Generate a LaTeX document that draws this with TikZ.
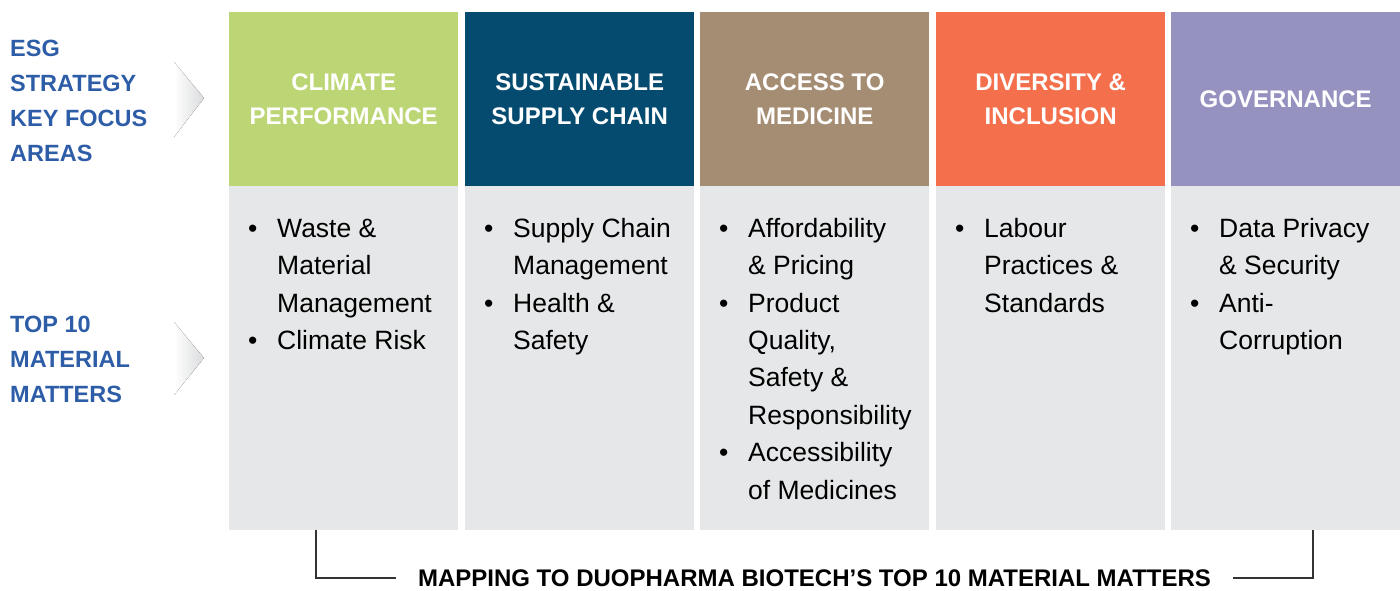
\documentclass[tikz,border=0pt]{standalone}
\usepackage{fontspec}
\setmainfont{Liberation Sans}
\definecolor{cgreen}{HTML}{BDD675}
\definecolor{cnavy}{HTML}{054B70}
\definecolor{ctan}{HTML}{A58D73}
\definecolor{corange}{HTML}{F4704C}
\definecolor{cpurple}{HTML}{9592C0}
\definecolor{cgray}{HTML}{E6E7E8}
\definecolor{cblue}{HTML}{2E5DA8}
\definecolor{cchev}{HTML}{DADBDD}
\definecolor{cline}{HTML}{333333}
\newcommand\bl{\makebox[29pt][l]{•}}
\newcommand\ind{\hspace*{29pt}}
\begin{document}
\begin{tikzpicture}[x=1pt,y=-1pt,
  head/.style={minimum width=229pt, minimum height=174pt, inner sep=0pt, text=white,
    font=\fontsize{24}{34}\selectfont\bfseries, align=center, anchor=north west},
  body/.style={fill=cgray, minimum width=229pt, minimum height=344pt, inner sep=0pt, anchor=north west},
  btext/.style={anchor=base west, inner sep=0pt, font=\fontsize{26.5}{37.4}\selectfont, text=black},
  lab/.style={anchor=base west, inner sep=0pt, font=\fontsize{23.5}{35}\selectfont\bfseries, text=cblue},
  chev/.style={left color=white, right color=cchev},
  bracket/.style={draw=cline, line width=1.3pt}
]
\useasboundingbox (0,0) rectangle (1400,590);
% headers
\node[head, fill=cgreen]  (h1) at (229,12)  {CLIMATE\\PERFORMANCE};
\node[head, fill=cnavy]   (h2) at (465,12)  {SUSTAINABLE\\SUPPLY CHAIN};
\node[head, fill=ctan]    (h3) at (700,12)  {ACCESS TO\\MEDICINE};
\node[head, fill=corange] (h4) at (936,12)  {DIVERSITY \&\\INCLUSION};
\node[head, fill=cpurple] (h5) at (1171,12) {GOVERNANCE};
% bodies
\node[body] (b1) at (229,186) {};
\node[body] (b2) at (465,186) {};
\node[body] (b3) at (700,186) {};
\node[body] (b4) at (936,186) {};
\node[body] (b5) at (1171,186) {};
% body texts
\node[btext] (t1) at (248,237.3) {\parbox[t]{210pt}{\bl Waste \&\\\ind Material\\\ind Management\\\bl Climate Risk}};
\node[btext] (t2) at (484,237.3) {\parbox[t]{210pt}{\bl Supply Chain\\\ind Management\\\bl Health \&\\\ind Safety}};
\node[btext] (t3) at (719,237.3) {\parbox[t]{210pt}{\bl Affordability\\\ind \& Pricing\\\bl Product\\\ind Quality,\\\ind Safety \&\\\ind Responsibility\\\bl Accessibility\\\ind of Medicines}};
\node[btext] (t4) at (955,237.3) {\parbox[t]{210pt}{\bl Labour\\\ind Practices \&\\\ind Standards}};
\node[btext] (t5) at (1190,237.3) {\parbox[t]{210pt}{\bl Data Privacy\\\ind \& Security\\\bl Anti-\\\ind Corruption}};
% left labels
\node[lab] (l1) at (10,56) {\parbox[t]{165pt}{ESG\\STRATEGY\\KEY FOCUS\\AREAS}};
\node[lab] (l2) at (10,332.6) {\parbox[t]{165pt}{TOP 10\\MATERIAL\\MATTERS}};
% chevrons
\fill[chev] (174,62) -- (204,98) -- (174,137) -- cycle;
\fill[chev] (174,322) -- (204,358) -- (174,395) -- cycle;
% bottom caption and bracket
\node[font=\fontsize{24}{28}\selectfont\bfseries, inner xsep=22pt, inner ysep=0pt] (cap) at (814.5,578) {MAPPING TO DUOPHARMA BIOTECH’S TOP 10 MATERIAL MATTERS};
\coordinate (bl) at (316,578);
\coordinate (br) at (1313,578);
\draw[bracket] (b1.south -| bl) -- (bl) -- (cap.west |- bl);
\draw[bracket] (b5.south -| br) -- (br) -- (cap.east |- br);
\end{tikzpicture}
\end{document}
